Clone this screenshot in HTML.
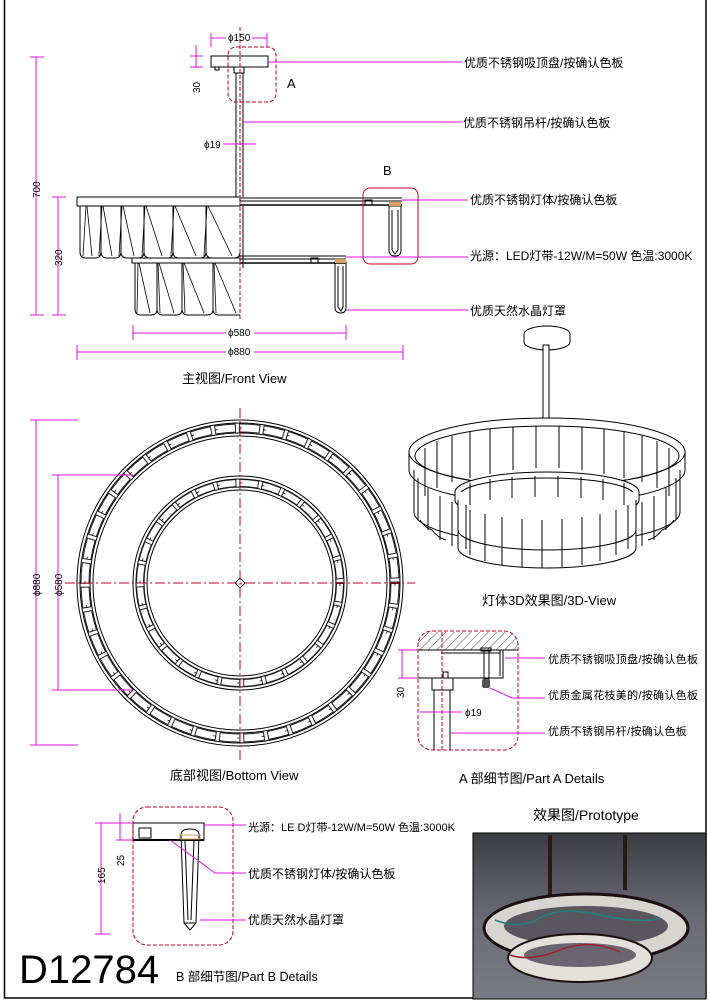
<!DOCTYPE html>
<html><head><meta charset="utf-8"><style>
html,body{margin:0;padding:0;background:#fff}
svg{display:block}
text{font-family:"Liberation Sans","Noto Sans CJK SC",sans-serif;fill:#000}
.m{stroke:#e010e0;stroke-width:1;fill:none}
.k{stroke:#000;stroke-width:1;fill:none}
.rd{stroke:#c00020;stroke-width:1;fill:none;stroke-dasharray:4 2}
.cl{stroke:#c00020;stroke-width:1;fill:none;stroke-dasharray:10 3 2 3}
.dim{font-size:10px}
.lb{font-size:12px}
.la{font-size:11px;letter-spacing:0.3px}
</style></head><body>
<svg width="710" height="1005" viewBox="0 0 710 1005" xmlns="http://www.w3.org/2000/svg">
<rect x="4.5" y="-2" width="701.5" height="1000" fill="none" stroke="#000" stroke-width="1.5"/>

<!-- FRONT VIEW -->
<g class="k">
 <rect x="211" y="56" width="57" height="11"/>
 <rect x="215" y="67" width="4" height="3"/>
 <rect x="234" y="67" width="10" height="6"/>
 <line x1="236" y1="73" x2="236" y2="197"/><line x1="243" y1="73" x2="243" y2="197"/>
 <rect x="77" y="197" width="163" height="9" fill="#fff"/>
 <line x1="240" y1="198" x2="402" y2="198"/><line x1="240" y1="201" x2="402" y2="201"/><line x1="240" y1="205" x2="402" y2="205" stroke-width="1.6"/>
 <rect x="365" y="200" width="7" height="5"/>
 <rect x="132" y="258" width="108" height="5" fill="#fff"/>
 <line x1="240" y1="256" x2="346" y2="256"/><line x1="240" y1="259" x2="346" y2="259"/><line x1="240" y1="263" x2="346" y2="263" stroke-width="1.6"/>
 <rect x="311" y="258" width="7" height="5"/>
 <line x1="243" y1="206" x2="243" y2="268"/>
 <path d="M80 206V252Q80 258 86 258H95Q101 258 101 252V206M101 206V252Q101 258 107 258H115Q121 258 121 252V206M121 206V252Q121 258 127 258H138Q144 258 144 252V206M144 206V252Q144 258 150 258H167Q173 258 173 252V206M173 206V252Q173 258 179 258H200Q206 258 206 252V206M206 206V252Q206 258 212 258H234Q240 258 240 252"/>
 <path d="M86 206L83 256M87 206L92 256M102 206L99 256M103 206L112 256M122 206L119 256M123 206L134 256M145 206L142 256M146 206L162 256M174 206L171 256M175 206L196 256M207 206L204 256M208 206L232 256" stroke-width="0.8"/>
 <path d="M135 263V309Q135 315 141 315H151Q157 315 157 309V263M157 263V309Q157 315 163 315H176Q182 315 182 309V263M182 263V309Q182 315 188 315H207Q213 315 213 309V263M213 263V309Q213 315 219 315H240"/>
 <path d="M138 263L137 313M139 263L150 313M158 263L160 313M159 263L174 313M183 263L185 313M184 263L204 313M214 263L216 313M215 263L236 313" stroke-width="0.8"/>
 <path d="M389 206V250Q389 256 395 256Q401 256 401 250V206Z"/>
 <path d="M392 210V250L395 254L398 250V210"/>
 <path d="M335 262V307Q335 313 341 313Q346 313 346 307V262Z"/>
 <path d="M338 266V307L341 311L343 307V266"/>
</g>
<rect x="389" y="202" width="12" height="4" fill="#d9a060"/>
<rect x="335" y="259" width="11" height="4" fill="#d9a060"/>
<line x1="240" y1="27" x2="240" y2="320" class="rd" stroke-dasharray="6 2"/>
<rect x="228" y="47" width="48" height="55" rx="8" class="rd" stroke-dasharray="3 1.5"/>
<rect x="363" y="188" width="55" height="76" rx="7" fill="none" stroke="#c00020"/>
<text x="287" y="88" font-size="13">A</text>
<text x="383" y="175" font-size="13">B</text>
<g class="m">
 <line x1="36" y1="57" x2="36" y2="315"/><line x1="30" y1="57" x2="44" y2="57"/><line x1="30" y1="315" x2="44" y2="315"/>
 <line x1="58" y1="197" x2="58" y2="315"/><line x1="52" y1="197" x2="66" y2="197"/><line x1="52" y1="315" x2="66" y2="315"/>
 <line x1="133" y1="333" x2="226" y2="333"/><line x1="254" y1="333" x2="346" y2="333"/><line x1="133" y1="325" x2="133" y2="340"/><line x1="346" y1="325" x2="346" y2="340"/>
 <line x1="77" y1="352" x2="226" y2="352"/><line x1="254" y1="352" x2="403" y2="352"/><line x1="77" y1="345" x2="77" y2="360"/><line x1="403" y1="345" x2="403" y2="360"/>
 <line x1="211" y1="38" x2="226" y2="38"/><line x1="252" y1="38" x2="267" y2="38"/><line x1="211" y1="33" x2="211" y2="47"/><line x1="267" y1="33" x2="267" y2="47"/>
 <line x1="196" y1="45" x2="196" y2="68"/><line x1="190" y1="56" x2="203" y2="56"/><line x1="190" y1="67" x2="203" y2="67"/>
 <line x1="223" y1="144" x2="256" y2="144"/>
 <line x1="268" y1="62" x2="462" y2="62"/>
 <line x1="243" y1="122" x2="462" y2="122"/>
 <line x1="402" y1="200" x2="468" y2="200"/>
 <line x1="346" y1="257" x2="468" y2="257"/>
 <line x1="346" y1="310" x2="468" y2="310"/>
</g>
<text class="dim" transform="translate(40,198) rotate(-90)">700</text>
<text class="dim" transform="translate(62,266) rotate(-90)">320</text>
<text class="dim" transform="translate(200,93) rotate(-90)">30</text>
<text class="dim" x="228" y="336">ϕ580</text>
<text class="dim" x="228" y="355">ϕ880</text>
<text class="dim" x="228" y="41">ϕ150</text>
<text class="dim" x="204" y="148">ϕ19</text>
<text class="lb" x="464" y="67">优质不锈钢吸顶盘/按确认色板</text>
<text class="lb" x="463" y="127">优质不锈钢吊杆/按确认色板</text>
<text class="lb" x="470" y="204">优质不锈钢灯体/按确认色板</text>
<text class="lb" x="470" y="260">光源：LED灯带-12W/M=50W 色温:3000K</text>
<text class="lb" x="470" y="315">优质天然水晶灯罩</text>
<text x="182" y="383" font-size="13">主视图/Front View</text>

<!-- BOTTOM VIEW -->
<g class="k">
 <circle cx="240" cy="583" r="163"/><circle cx="240" cy="583" r="160"/>
 <circle cx="240" cy="583" r="150"/><circle cx="240" cy="583" r="147"/>
 <circle cx="240" cy="583" r="155" stroke-width="9" stroke-dasharray="21.3 3" stroke="#222"/>
 <circle cx="240" cy="583" r="155" stroke-width="7" stroke-dasharray="19.3 5" stroke-dashoffset="-1" stroke="#fff"/>
 <circle cx="240" cy="583" r="155" stroke-width="0.7" stroke-dasharray="3 21.3" stroke="#000"/>
 <circle cx="240" cy="583" r="107"/><circle cx="240" cy="583" r="104"/>
 <circle cx="240" cy="583" r="96"/><circle cx="240" cy="583" r="93"/>
 <circle cx="240" cy="583" r="100" stroke-width="8" stroke-dasharray="19.4 3" stroke="#222"/>
 <circle cx="240" cy="583" r="100" stroke-width="6" stroke-dasharray="17.4 5" stroke-dashoffset="-1" stroke="#fff"/>
 <circle cx="240" cy="583" r="100" stroke-width="0.7" stroke-dasharray="3 19.4" stroke="#000"/>
 <path d="M240 578L245 583L240 588L235 583Z" stroke-width="0.8"/>
</g>
<line x1="240" y1="408" x2="240" y2="760" class="cl"/>
<line x1="65" y1="583" x2="415" y2="583" class="cl"/>
<g class="m">
 <line x1="36" y1="420" x2="36" y2="745"/><line x1="30" y1="420" x2="78" y2="420"/><line x1="30" y1="745" x2="78" y2="745"/>
 <line x1="58" y1="475" x2="58" y2="690"/><line x1="52" y1="475" x2="133" y2="475"/><line x1="52" y1="690" x2="133" y2="690"/>
</g>
<text class="dim" transform="translate(40,596) rotate(-90)">ϕ880</text>
<text class="dim" transform="translate(62,596) rotate(-90)">ϕ580</text>
<text x="170" y="780" font-size="13">底部视图/Bottom View</text>

<!-- 3D VIEW -->
<g class="k" fill="#fff">
 <ellipse cx="547" cy="334" rx="23" ry="8" fill="#fff"/>
 <path d="M524 334V342A23 8 0 0 0 570 342V334" fill="#fff"/>
 <rect x="543" y="345" width="6" height="75" fill="#fff"/>
 <ellipse cx="547" cy="452" rx="138" ry="34" fill="#fff"/>
 <ellipse cx="547" cy="456" rx="132" ry="30"/>
 <path d="M409 452V470A138 34 0 0 0 685 470V452"/>
 <path d="M414 470V512A133 32 0 0 0 680 512V470"/>
</g>
<g class="k" stroke-width="0.9">
 <path d="M425 448V496M437 441V488M452 436V482M470 432V478M490 429V474M513 427V470M536 426V468M559 426V468M582 427V470M604 429V474M624 432V478M642 436V482M657 441V488M669 448V496"/>
 <path d="M418 478V520M428 488V530M440 496V540M452 502V546M642 502V546M654 496V540M666 488V530M676 478V520"/>
 <path d="M420 520Q425 528 432 530M432 530Q438 538 446 540M648 540Q656 538 662 530M662 530Q669 528 674 520"/>
</g>
<g class="k" fill="#fff">
 <ellipse cx="547" cy="492" rx="92" ry="20" fill="#fff"/>
 <ellipse cx="547" cy="495" rx="87" ry="17"/>
 <path d="M455 492V500A92 20 0 0 0 639 500V492" fill="#fff"/>
 <path d="M458 500V548A89 20 0 0 0 636 548V500" fill="#fff"/>
 <path d="M458 530A89 20 0 0 0 636 530"/>
</g>
<g class="k" stroke-width="0.9">
 <path d="M470 510V555M485 514V561M502 517V565M522 519V567M542 520V568M562 519V567M582 517V565M600 514V561M616 510V555M628 505V549M466 505V549"/>
 <path d="M470 483V505M490 479V500M512 477V498M535 476V497M558 476V497M581 477V498M603 479V500M624 483V505"/>
</g>
<text x="482" y="605" font-size="13">灯体3D效果图/3D-View</text>

<!-- PART A -->
<defs>
 <pattern id="h" width="6" height="6" patternUnits="userSpaceOnUse" patternTransform="rotate(45)"><line x1="0" y1="0" x2="0" y2="6" stroke="#000" stroke-width="0.7"/></pattern>
</defs>
<path d="M418 650V645Q418 632 431 632H505Q518 632 518 645V650Z" fill="url(#h)"/>
<g class="k">
 <line x1="418" y1="650" x2="518" y2="650"/>
 <line x1="441" y1="653" x2="500" y2="653"/>
 <path d="M418 678H503V650"/><line x1="500" y1="650" x2="500" y2="676"/>
 <rect x="484" y="651" width="5" height="28"/>
 <rect x="481" y="648" width="10" height="3"/>
 <rect x="443" y="672" width="5" height="6"/>
 <rect x="432" y="678" width="21" height="12"/>
 <line x1="434" y1="690" x2="434" y2="750"/><line x1="450" y1="690" x2="450" y2="750"/>
</g>
<rect x="482" y="679" width="8" height="9" rx="2" fill="#555"/>
<line x1="442" y1="632" x2="442" y2="752" class="rd" stroke-dasharray="6 2"/>
<rect x="418" y="631" width="100" height="119" rx="14" class="rd" stroke-dasharray="2 1"/>
<g class="m">
 <line x1="402" y1="650" x2="402" y2="678"/><line x1="398" y1="650" x2="418" y2="650"/><line x1="398" y1="678" x2="418" y2="678"/>
 <line x1="420" y1="712" x2="462" y2="712"/>
 <path d="M505 658H545"/>
 <path d="M490 688L512 698H545"/>
 <path d="M451 733H545"/>
</g>
<text class="dim" transform="translate(404,698) rotate(-90)">30</text>
<text class="dim" x="465" y="716">ϕ19</text>
<text class="la" x="548" y="663">优质不锈钢吸顶盘/按确认色板</text>
<text class="la" x="548" y="699">优质金属花枝美的/按确认色板</text>
<text class="la" x="548" y="735">优质不锈钢吊杆/按确认色板</text>
<text x="459" y="783" font-size="13">A 部细节图/Part A Details</text>

<!-- PROTOTYPE -->
<text x="533" y="820" font-size="14">效果图/Prototype</text>
<defs>
 <linearGradient id="bg" x1="0" y1="0" x2="0" y2="1"><stop offset="0" stop-color="#3c3c44"/><stop offset="0.5" stop-color="#6a6a76"/><stop offset="1" stop-color="#7a7a84"/></linearGradient>
</defs>
<rect x="473" y="833" width="233" height="166" fill="url(#bg)" stroke="#000"/>
<rect x="548" y="835" width="4" height="60" fill="#2a1a14"/>
<rect x="623" y="835" width="4" height="55" fill="#2a1a14"/>
<ellipse cx="586" cy="928" rx="102" ry="34" fill="#d8d4d0" stroke="#1a1010" stroke-width="3"/>
<ellipse cx="586" cy="926" rx="82" ry="20" fill="#5a5660"/>
<ellipse cx="580" cy="958" rx="72" ry="24" fill="#e4e0dc" stroke="#1a1010" stroke-width="2"/>
<ellipse cx="580" cy="955" rx="56" ry="12" fill="#6a6670"/>
<path d="M495 920Q520 930 540 918T600 915T660 918" stroke="#208080" fill="none" stroke-width="1.5"/>
<path d="M510 955Q530 962 560 950T620 952" stroke="#a02030" fill="none" stroke-width="1.5"/>

<!-- PART B -->
<g class="k">
 <rect x="133" y="823" width="71" height="17"/>
 <line x1="133" y1="840" x2="204" y2="840" stroke-width="2"/>
 <rect x="139" y="828" width="12" height="10"/>
 <path d="M181 835Q181 829 190 829Q199 829 199 835L196 923L190 930L184 923Z"/>
 <path d="M185 840L188 920M194 840L191 920M184 923H196"/>
</g>
<rect x="180" y="835" width="20" height="4" fill="none" stroke="#d9a060"/>
<rect x="133" y="807" width="100" height="138" rx="14" class="rd" stroke-dasharray="2 1"/>
<g class="m">
 <line x1="101" y1="823" x2="101" y2="934"/><line x1="95" y1="823" x2="133" y2="823"/><line x1="95" y1="934" x2="110" y2="934"/>
 <line x1="120" y1="813" x2="120" y2="840"/><line x1="116" y1="840" x2="133" y2="840"/>
 <line x1="204" y1="825" x2="246" y2="825"/>
 <path d="M170 840L215 873H246"/>
 <path d="M200 920H246"/>
</g>
<text class="dim" transform="translate(105,884) rotate(-90)">165</text>
<text class="dim" transform="translate(124,866) rotate(-90)">25</text>
<text x="248" y="831" font-size="11">光源：LE D灯带-12W/M=50W  色温:3000K</text>
<text class="lb" x="248" y="878">优质不锈钢灯体/按确认色板</text>
<text class="lb" x="248" y="924">优质天然水晶灯罩</text>
<text x="19" y="983" font-size="40">D12784</text>
<text x="176" y="981" font-size="12.5">B 部细节图/Part B Details</text>
</svg>
</body></html>
